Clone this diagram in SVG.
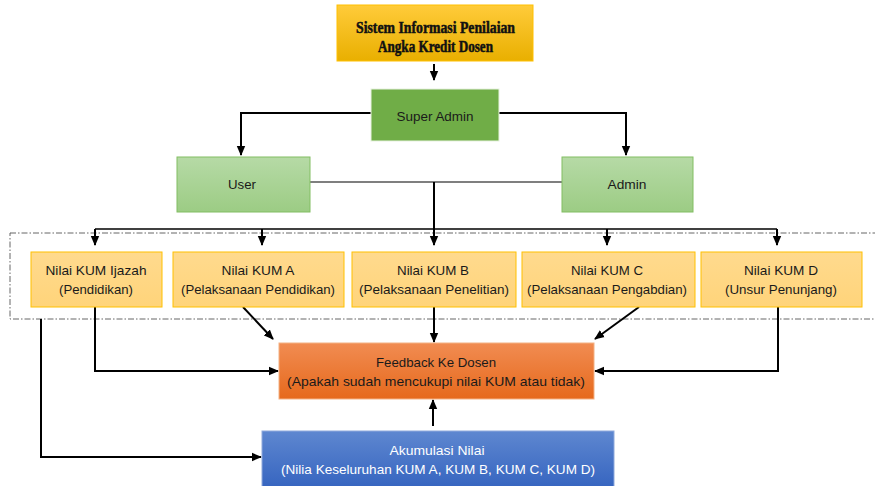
<svg xmlns="http://www.w3.org/2000/svg" width="875" height="486" viewBox="0 0 875 486">
<defs>
<linearGradient id="gTitle" x1="0" y1="0" x2="0" y2="1"><stop offset="0" stop-color="#FFCB3A"/><stop offset="1" stop-color="#E9AF00"/></linearGradient>
<linearGradient id="gLight" x1="0" y1="0" x2="0" y2="1"><stop offset="0" stop-color="#B6DAA6"/><stop offset="1" stop-color="#9CCC84"/></linearGradient>
<linearGradient id="gKum" x1="0" y1="0" x2="0" y2="1"><stop offset="0" stop-color="#FFDA8E"/><stop offset="1" stop-color="#FFD47A"/></linearGradient>
<linearGradient id="gFb" x1="0" y1="0" x2="0" y2="1"><stop offset="0" stop-color="#F18C52"/><stop offset="1" stop-color="#E6691C"/></linearGradient>
<linearGradient id="gAk" x1="0" y1="0" x2="0" y2="1"><stop offset="0" stop-color="#5E87D0"/><stop offset="1" stop-color="#3463BF"/></linearGradient>
<marker id="ah" markerUnits="userSpaceOnUse" markerWidth="10" markerHeight="10" viewBox="0 0 10 10" refX="9" refY="5" orient="auto"><path d="M0,0.8 L10,5 L0,9.2 z" fill="#000"/></marker>
</defs>
<style>
.t{font-family:"Liberation Sans",Arial,sans-serif;font-size:13.5px;fill:#1a1a1a;text-anchor:middle}
.w{fill:#fff}
.c{fill:none;stroke:#000;stroke-width:2}
.a{marker-end:url(#ah)}
.kum{fill:url(#gKum);stroke:#FFC000;stroke-width:1}
.ttl{font-family:"Liberation Serif",serif;font-weight:bold;font-size:16px;text-anchor:middle;fill:#111;stroke:#111;stroke-width:0.5}
</style>
<rect x="10" y="233" width="870" height="86" fill="none" stroke="#666" stroke-width="1" stroke-dasharray="6,2,1.5,2"/>
<g id="connectors">
<path class="c a" d="M434,64 V80"/>
<path class="c a" d="M371,113 H241 V155"/>
<path class="c a" d="M499,113 H626 V155"/>
<path d="M310,182 H562" fill="none" stroke="#000" stroke-width="1.2"/>
<path class="c" d="M434,182 V229" stroke-width="1.5"/>
<path d="M95,229 H777" fill="none" stroke="#000" stroke-width="1.5"/>
<path class="c a" d="M95,229 V245" stroke-width="1.5"/>
<path class="c a" d="M262,229 V245" stroke-width="1.5"/>
<path class="c a" d="M434,229 V245" stroke-width="1.5"/>
<path class="c a" d="M607,229 V245" stroke-width="1.5"/>
<path class="c a" d="M777,229 V245" stroke-width="1.5"/>
<path class="c a" d="M95,307 V371 H278"/>
<path class="c a" d="M243,307 L273,339"/>
<path class="c a" d="M434,307 V342"/>
<path class="c a" d="M639,307 L595,339"/>
<path class="c a" d="M778,307 V371 H595"/>
<path class="c a" d="M433,426 V400"/>
<path class="c a" d="M41,319 V457 H261"/>
</g>
<g id="title">
<rect x="337" y="5" width="196" height="56" fill="url(#gTitle)" stroke="#FFC000" stroke-width="1"/>
<text class="ttl" x="435.5" y="33" textLength="159" lengthAdjust="spacingAndGlyphs">Sistem Informasi Penilaian</text>
<text class="ttl" x="435.5" y="52" textLength="115" lengthAdjust="spacingAndGlyphs">Angka Kredit Dosen</text>
</g>
<g id="superadmin">
<rect x="371" y="89" width="128" height="52" fill="#70AD47" stroke="#E8F2E0" stroke-width="1"/>
<text class="t" x="435" y="121" textLength="77" lengthAdjust="spacingAndGlyphs">Super  Admin</text>
</g>
<g id="user">
<rect x="177" y="157" width="133" height="55" fill="url(#gLight)" stroke="#82BE63" stroke-width="1"/>
<text class="t" x="242" y="189" textLength="28" lengthAdjust="spacingAndGlyphs">User</text>
</g>
<g id="admin">
<rect x="562" y="157" width="131" height="55" fill="url(#gLight)" stroke="#82BE63" stroke-width="1"/>
<text class="t" x="627" y="189" textLength="39" lengthAdjust="spacingAndGlyphs">Admin</text>
</g>
<g id="kumijazah">
<rect class="kum" x="31" y="252" width="131" height="55"/>
<text class="t" x="96" y="275" textLength="101" lengthAdjust="spacingAndGlyphs">Nilai KUM Ijazah</text>
<text class="t" x="96" y="294" textLength="74" lengthAdjust="spacingAndGlyphs">(Pendidikan)</text>
</g>
<g id="kuma">
<rect class="kum" x="173" y="252" width="171" height="55"/>
<text class="t" x="258" y="275" textLength="73" lengthAdjust="spacingAndGlyphs">Nilai KUM A</text>
<text class="t" x="258" y="294" textLength="154" lengthAdjust="spacingAndGlyphs">(Pelaksanaan Pendidikan)</text>
</g>
<g id="kumb">
<rect class="kum" x="352" y="252" width="164" height="55"/>
<text class="t" x="433" y="275" textLength="72" lengthAdjust="spacingAndGlyphs">Nilai KUM B</text>
<text class="t" x="434" y="294" textLength="150" lengthAdjust="spacingAndGlyphs">(Pelaksanaan Penelitian)</text>
</g>
<g id="kumc">
<rect class="kum" x="522" y="252" width="173" height="55"/>
<text class="t" x="607" y="275" textLength="72" lengthAdjust="spacingAndGlyphs">Nilai KUM C</text>
<text class="t" x="607" y="294" textLength="160" lengthAdjust="spacingAndGlyphs">(Pelaksanaan Pengabdian)</text>
</g>
<g id="kumd">
<rect class="kum" x="701" y="252" width="161" height="55"/>
<text class="t" x="781" y="275" textLength="74" lengthAdjust="spacingAndGlyphs">Nilai KUM D</text>
<text class="t" x="781" y="294" textLength="112" lengthAdjust="spacingAndGlyphs">(Unsur Penunjang)</text>
</g>
<g id="feedback">
<rect x="279" y="343" width="315" height="56" fill="url(#gFb)" stroke="#F4B183" stroke-width="1"/>
<text class="t" x="436" y="367" textLength="120" lengthAdjust="spacingAndGlyphs">Feedback  Ke  Dosen</text>
<text class="t" x="436" y="386" textLength="298" lengthAdjust="spacingAndGlyphs">(Apakah sudah mencukupi  nilai KUM atau tidak)</text>
</g>
<g id="akumulasi">
<rect x="262" y="431" width="352" height="60" fill="url(#gAk)" stroke="#8FAADC" stroke-width="1"/>
<text class="t w" x="437" y="455" textLength="95" lengthAdjust="spacingAndGlyphs">Akumulasi  Nilai</text>
<text class="t w" x="438" y="474" textLength="314" lengthAdjust="spacingAndGlyphs">(Nilia  Keseluruhan  KUM A, KUM B, KUM C, KUM D)</text>
</g>
</svg>
